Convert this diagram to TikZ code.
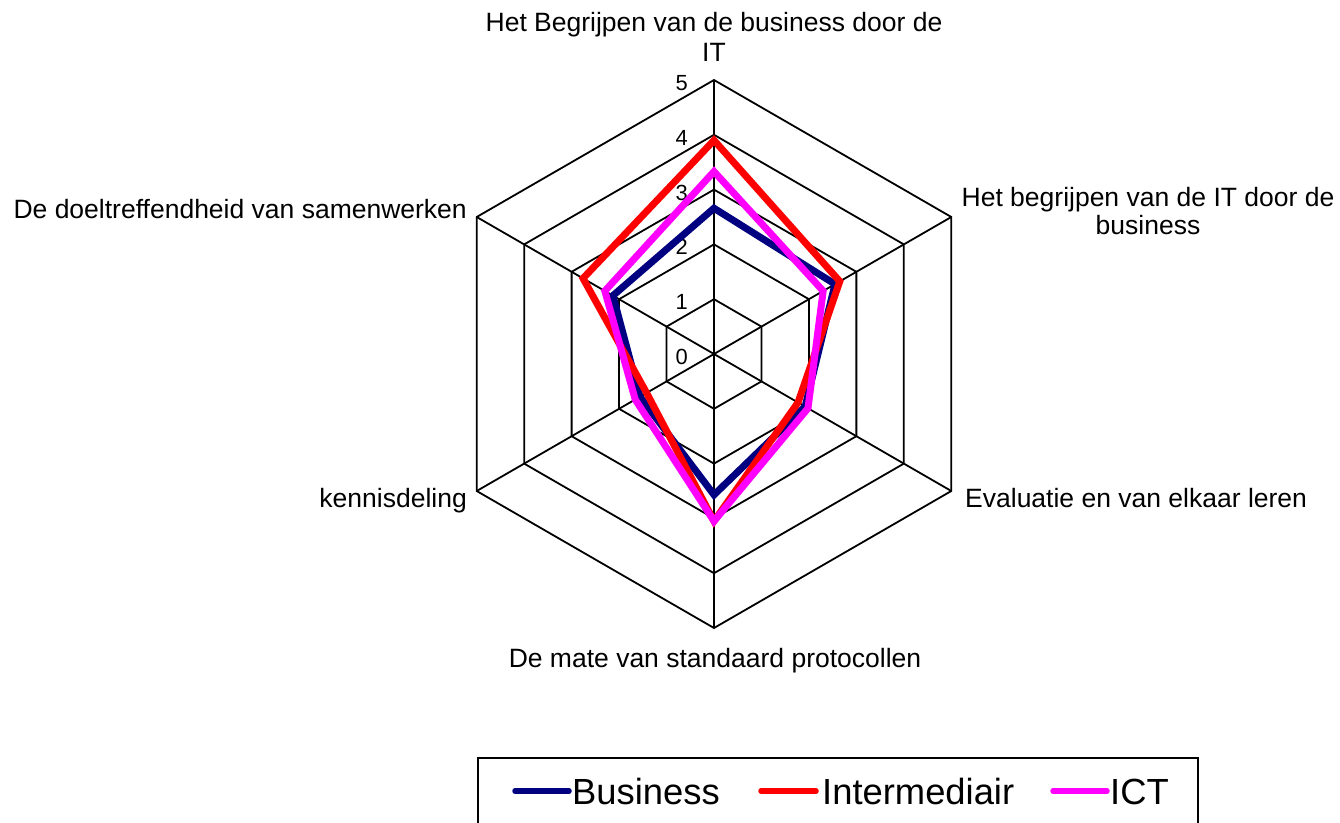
\documentclass[tikz,border=0pt]{standalone}
\usepackage{fontspec}
\setmainfont{Liberation Sans}
\definecolor{biz}{RGB}{0,0,128}
\definecolor{inter}{RGB}{255,0,0}
\definecolor{ict}{RGB}{255,0,255}
\begin{document}
\begin{tikzpicture}[x=1bp,y=1bp,
  gridline/.style={line width=1.8bp, black},
  series/.style={line width=7bp, miter limit=4},
  axlab/.style={inner sep=0, font=\fontsize{26.6}{30}\selectfont},
  ticklab/.style={inner sep=0, anchor=base east, font=\fontsize{22}{24}\selectfont},
  leglab/.style={inner sep=0, anchor=base west, font=\fontsize{36.5}{40}\selectfont},
  legline/.style={line width=5.5bp, line cap=round}]
\useasboundingbox (0,-822) rectangle (1340,0);
\clip (0,-822) rectangle (1340,0);
\def\u{54.8}
\coordinate (O) at (714,-354);
\begin{scope}[shift={(O)}]
  % rings
  \foreach \r in {1,...,5}{
    \draw[gridline] (90:{\r*\u}) -- (30:{\r*\u}) -- (-30:{\r*\u}) -- (-90:{\r*\u}) -- (-150:{\r*\u}) -- (150:{\r*\u}) -- cycle;
  }
  % spokes
  \foreach \a/\k in {90/0,30/1,-30/2,-90/3,-150/4,150/5}{
    \coordinate (v\k) at (\a:{5*\u});
    \draw[gridline] (O) -- (v\k);
  }
  % tick labels
  \foreach \r in {0,...,5}{
    \node[ticklab] (t\r) at (-26,{\r*\u-10.5}) {\r};
  }
  % series
  \draw[series, biz] (90:{2.66*\u}) -- (30:{2.55*\u}) -- (-30:{1.92*\u}) -- (-90:{2.57*\u}) -- (-150:{1.56*\u}) -- (150:{2.13*\u}) -- cycle;
  \draw[series, inter] (90:{3.9*\u}) -- (30:{2.65*\u}) -- (-30:{1.77*\u}) -- (-90:{3.05*\u}) -- (-150:{1.42*\u}) -- (150:{2.76*\u}) -- cycle;
  \draw[series, ict] (90:{3.33*\u}) -- (30:{2.3*\u}) -- (-30:{1.98*\u}) -- (-90:{3.05*\u}) -- (-150:{1.66*\u}) -- (150:{2.3*\u}) -- cycle;
\end{scope}
% axis labels
\node[axlab, anchor=base] (l0) at (714,-32) {\begin{tabular}[t]{@{}c@{}}Het Begrijpen van de business door de\\IT\end{tabular}};
\node[axlab, anchor=base, font=\fontsize{26.6}{28.5}\selectfont] (l1) at (1148,-206) {\begin{tabular}[t]{@{}c@{}}Het begrijpen van de IT door de\\business\end{tabular}};
\node[axlab, anchor=base west] (l2) at (965,-507) {Evaluatie en van elkaar leren};
\node[axlab, anchor=base] (l3) at (715,-667) {De mate van standaard protocollen};
\node[axlab, anchor=base east] (l4) at (467,-507) {kennisdeling};
\node[axlab, anchor=base east] (l5) at (467,-218) {De doeltreffendheid van samenwerken};
% legend
\draw[line width=1.8bp] (478,-758) rectangle (1198,-840);
\coordinate (b1) at (515,-791); \coordinate (b2) at (569,-791);
\coordinate (r1) at (761,-791); \coordinate (r2) at (816,-791);
\coordinate (m1) at (1053,-791); \coordinate (m2) at (1107,-791);
\draw[legline, biz] (b1) -- (b2);
\draw[legline, inter] (r1) -- (r2);
\draw[legline, ict] (m1) -- (m2);
\node[leglab] (lb) at (572,-804) {Business};
\node[leglab] (li) at (822,-804) {Intermediair};
\node[leglab] (lc) at (1110,-804) {ICT};
\end{tikzpicture}
\end{document}
